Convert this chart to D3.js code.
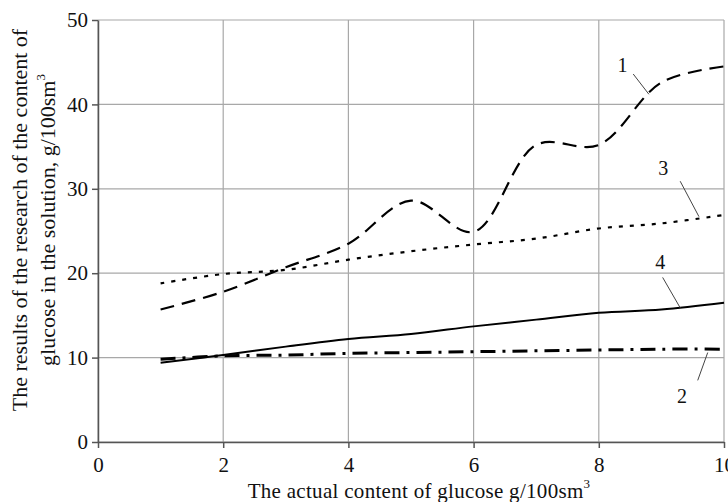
<!DOCTYPE html>
<html>
<head>
<meta charset="utf-8">
<script src="https://cdn.jsdelivr.net/npm/d3@7"></script>
<style>
    body { margin: 0; background: #fff; }
    text { font-family: "Liberation Serif", "Times New Roman", serif; fill: #111; }
    .grid line { stroke: #a8a8a8; stroke-width: 1.2; }
    .axis path, .axis line { stroke: #555; stroke-width: 1.5; }
    .axis text { font-size: 21px; }
</style>
</head>
<body>
<svg width="728" height="502"></svg>
<script>
    // data
    const xValues = [1, 2, 3, 4, 5, 6, 7, 8, 9, 10];
    const series1 = [15.7, 17.8, 20.7, 23.5, 28.6, 24.9, 35.2, 35.2, 42.6, 44.5];
    const series2 = [9.8, 10.2, 10.3, 10.5, 10.6, 10.7, 10.8, 10.9, 11.0, 11.0];
    const series3 = [18.8, 19.9, 20.4, 21.6, 22.6, 23.4, 24.1, 25.3, 25.9, 26.9];
    const series4 = [9.4, 10.3, 11.3, 12.2, 12.8, 13.7, 14.5, 15.3, 15.7, 16.5];
    const xTicks = [0, 2, 4, 6, 8, 10];
    const yTicks = [0, 10, 20, 30, 40, 50];

    const svg = d3.select("svg");
    const margin = { top: 20, right: 4, bottom: 60, left: 98 };
    const width = 728 - margin.left - margin.right;
    const height = 502 - margin.top - margin.bottom;

    const x = d3.scaleLinear().domain([0, 10]).range([0, width]);
    const y = d3.scaleLinear().domain([0, 50]).range([height, 0]);

    const g = svg.append("g")
        .attr("transform", `translate(${margin.left},${margin.top})`);

    // grid
    g.append("g").attr("class", "grid")
        .selectAll("line.v").data(xTicks).join("line")
        .attr("x1", d => x(d)).attr("x2", d => x(d))
        .attr("y1", 0).attr("y2", height);
    g.append("g").attr("class", "grid")
        .selectAll("line.h").data(yTicks).join("line")
        .attr("x1", 0).attr("x2", width)
        .attr("y1", d => y(d)).attr("y2", d => y(d));

    // axes
    g.append("g").attr("class", "axis")
        .attr("transform", `translate(0,${height})`)
        .call(d3.axisBottom(x).tickValues(xTicks).tickSize(6).tickPadding(9).tickSizeOuter(0));
    g.append("g").attr("class", "axis")
        .call(d3.axisLeft(y).tickValues(yTicks).tickSize(6).tickPadding(4).tickSizeOuter(0));

    // lines
    const line = d3.line()
        .x((d, i) => x(xValues[i]))
        .y(d => y(d))
        .curve(d3.curveCatmullRom.alpha(0.5));

    const styles = [
        { data: series1, dash: "14,8", w: 2.2 },
        { data: series3, dash: "4,7", w: 2.2 },
        { data: series4, dash: null, w: 2 },
        { data: series2, dash: "15,7,3,7", w: 3 }
    ];
    styles.forEach(s => {
        g.append("path")
            .datum(s.data)
            .attr("fill", "none")
            .attr("stroke", "#000")
            .attr("stroke-width", s.w)
            .attr("stroke-dasharray", s.dash)
            .attr("d", line);
    });

    // series labels with leader lines
    const labels = [
        { t: "1", tx: 8.3, ty: 43.8, x1: 8.55, y1: 43.6, x2: 8.8, y2: 41.2 },
        { t: "3", tx: 8.95, ty: 31.6, x1: 9.3, y1: 30.9, x2: 9.6, y2: 26.7 },
        { t: "4", tx: 8.9, ty: 20.5, x1: 9.02, y1: 19.5, x2: 9.3, y2: 15.9 },
        { t: "2", tx: 9.25, ty: 4.6, x1: 9.58, y1: 7.3, x2: 9.74, y2: 10.6 }
    ];
    labels.forEach(l => {
        g.append("line")
            .attr("x1", x(l.x1)).attr("y1", y(l.y1))
            .attr("x2", x(l.x2)).attr("y2", y(l.y2))
            .attr("stroke", "#444").attr("stroke-width", 1);
        g.append("text")
            .attr("x", x(l.tx)).attr("y", y(l.ty))
            .attr("font-size", 20)
            .text(l.t);
    });

    // axis titles
    const xt = svg.append("text")
        .attr("x", 419).attr("y", 498)
        .attr("text-anchor", "middle")
        .attr("font-size", 21)
        .attr("letter-spacing", 0.3);
    xt.append("tspan").text("The actual content of glucose g/100sm");
    xt.append("tspan").attr("dy", -10).attr("font-size", 13).text("3");

    const yt = svg.append("g").attr("transform", "translate(27,220) rotate(-90)");
    yt.append("text").attr("text-anchor", "middle").attr("font-size", 22)
        .text("The results of the research of the content of");
    const yt2 = yt.append("text").attr("y", 28).attr("text-anchor", "middle").attr("font-size", 22);
    yt2.append("tspan").text("glucose in the solution, g/100sm");
    yt2.append("tspan").attr("dy", -10).attr("font-size", 13).text("3");
</script>
</body>
</html>
